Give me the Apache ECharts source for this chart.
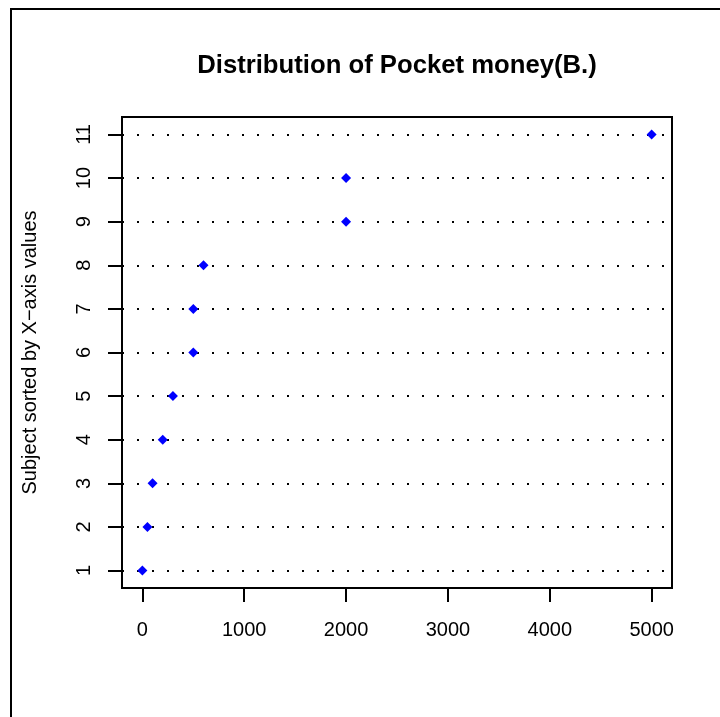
<!DOCTYPE html>
<html>
<head>
<meta charset="utf-8">
<script src="https://cdn.jsdelivr.net/npm/echarts@6/dist/echarts.min.js"></script>
<style>html,body{margin:0;padding:0;background:#fff}#c{width:720px;height:717px}</style>
</head>
<body>
<div id="c"></div>
<script>
// Data
const subjects = [1, 2, 3, 4, 5, 6, 7, 8, 9, 10, 11];
const pocketMoney = [0, 50, 100, 200, 300, 500, 500, 600, 2000, 2000, 5000];
const xTicks = [0, 1000, 2000, 3000, 4000, 5000];
const yTicks = [1, 2, 3, 4, 5, 6, 7, 8, 9, 10, 11];

const chart = echarts.init(document.getElementById('c'), null, {renderer: 'canvas'});
const font = 'Liberation Sans, Arial, Helvetica, sans-serif';
const points = subjects.map((s, i) => [pocketMoney[i], s]);

// layout of the plot box
const gTop = 117, gBottom = 129, gLeft = 122, gRight = 48, H = 717;
const yMin = 0.6, yMax = 11.4;
const tMin = yTicks[0], tMax = yTicks[yTicks.length - 1];
const unit = (H - gTop - gBottom) / (yMax - yMin);
// second (invisible) grid whose y range starts exactly at the first tick
const g2Top = gTop + (yMax - tMax) * unit;
const g2Bottom = gBottom + (tMin - yMin) * unit;

chart.setOption({
  animation: false,
  backgroundColor: '#fff',
  title: {
    text: 'Distribution of Pocket money(B.)',
    left: 392, top: 48, textAlign: 'center',
    textStyle: {fontFamily: font, fontSize: 25.7, fontWeight: 'bold', color: '#000'}
  },
  grid: [
    {left: gLeft, right: gRight, top: gTop, bottom: gBottom, show: true, borderColor: '#000', borderWidth: 2, backgroundColor: 'transparent'},
    {left: gLeft, right: gRight, top: g2Top, bottom: g2Bottom, show: false}
  ],
  xAxis: [{
    type: 'value', min: -200, max: 5200, gridIndex: 0,
    axisLine: {show: true, onZero: false, lineStyle: {color: '#000', width: 2}},
    splitLine: {show: false},
    axisTick: {show: true, length: 14, lineStyle: {color: '#000', width: 2}, customValues: xTicks},
    axisLabel: {customValues: xTicks, margin: 32, fontFamily: font, fontSize: 20, color: '#000', formatter: v => String(v)}
  }, {
    type: 'value', min: 0, max: 1, gridIndex: 1, show: false
  }],
  yAxis: [{
    type: 'value', min: yMin, max: yMax, gridIndex: 0,
    name: 'Subject sorted by X\u2212axis values', nameLocation: 'middle', nameGap: 82, nameRotate: 90,
    nameTextStyle: {fontFamily: font, fontSize: 20, color: '#000'},
    axisLine: {show: true, onZero: false, lineStyle: {color: '#000', width: 2}},
    splitLine: {show: false},
    axisTick: {show: false},
    axisLabel: {show: false}
  }, {
    type: 'value', gridIndex: 1, min: tMin, max: tMax, interval: 1,
    axisLine: {show: true, onZero: false, lineStyle: {color: '#000', width: 2}},
    splitLine: {show: false},
    axisTick: {show: true, length: 14, lineStyle: {color: '#000', width: 2}},
    axisLabel: {rotate: 90, margin: 28, fontFamily: font, fontSize: 20, color: '#000', formatter: v => String(v)}
  }],
  graphic: [{
    type: 'rect', shape: {x: 11, y: 9, width: 3000, height: 3000},
    style: {fill: 'none', stroke: '#000', lineWidth: 2}, silent: true, z: 100
  }],
  series: [{
    type: 'scatter', data: [], z: 1, silent: true, xAxisIndex: 0, yAxisIndex: 0,
    markLine: {
      silent: true, symbol: ['none', 'none'], label: {show: false},
      lineStyle: {color: '#000', width: 2, type: [2, 13], cap: 'butt', opacity: 1},
      data: yTicks.map(v => ({yAxis: v}))
    }
  }, {
    type: 'scatter', z: 5, xAxisIndex: 0, yAxisIndex: 0,
    symbol: 'diamond', symbolSize: 10,
    itemStyle: {color: '#0000ff', opacity: 1},
    data: points
  }]
});
</script>
</body>
</html>
